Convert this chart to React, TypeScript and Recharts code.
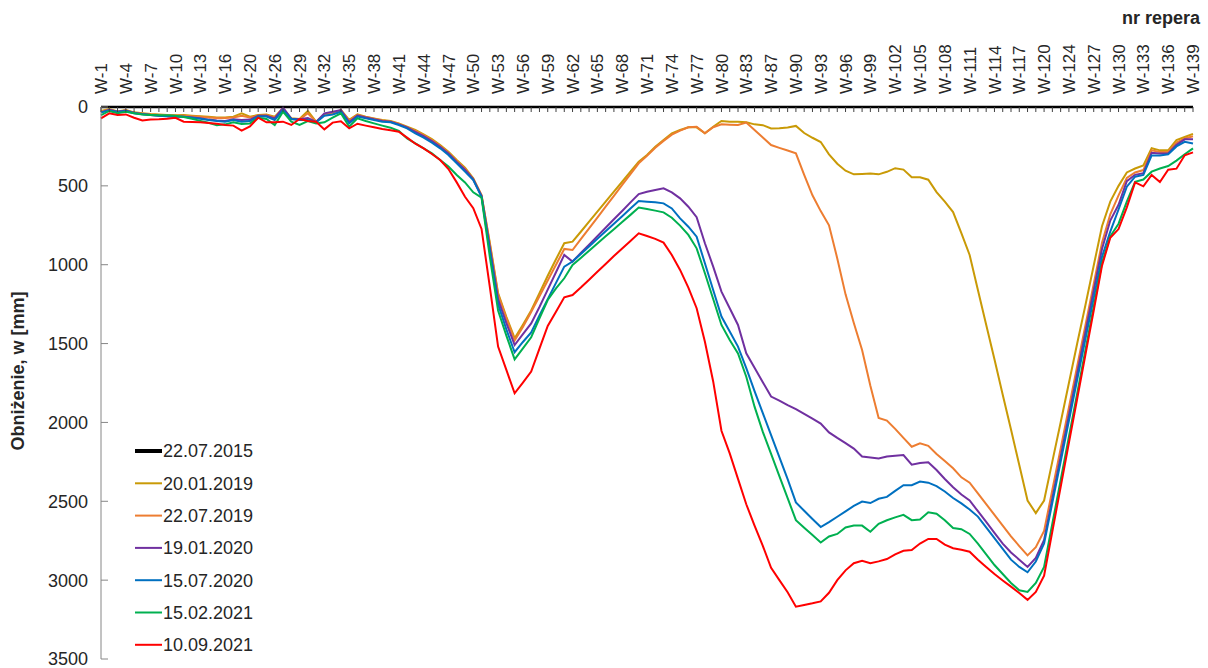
import { LineChart, Line, XAxis, YAxis } from 'recharts'

// numery reperów (co trzeci opisany na osi)
const REPER_NR = [
  1, 2, 3, 4, 5, 6, 7, 8, 9, 10, 11, 12, 13, 14, 15, 16, 17, 19, 20, 21,
  25, 26, 27, 28, 29, 30, 31, 32, 33, 34, 35, 36, 37, 38, 39, 40, 41, 42, 43, 44,
  45, 46, 47, 48, 49, 50, 51, 52, 53, 54, 55, 56, 57, 58, 59, 60, 61, 62, 63, 64,
  65, 66, 67, 68, 69, 70, 71, 72, 73, 74, 75, 76, 77, 78, 79, 80, 81, 82, 83, 84,
  86, 87, 88, 89, 90, 91, 92, 93, 94, 95, 96, 97, 98, 99, 100, 101, 102, 103, 104, 105,
  106, 107, 108, 109, 110, 111, 112, 113, 114, 115, 116, 117, 118, 119, 120, 121, 123, 124, 125, 126,
  127, 128, 129, 130, 131, 132, 133, 134, 135, 136, 137, 138, 139
]

const W_2015 = [
  0, 0, 0, 0, 0, 0, 0, 0, 0, 0, 0, 0, 0, 0, 0, 0, 0, 0, 0, 0,
  0, 0, 0, 0, 0, 0, 0, 0, 0, 0, 0, 0, 0, 0, 0, 0, 0, 0, 0, 0,
  0, 0, 0, 0, 0, 0, 0, 0, 0, 0, 0, 0, 0, 0, 0, 0, 0, 0, 0, 0,
  0, 0, 0, 0, 0, 0, 0, 0, 0, 0, 0, 0, 0, 0, 0, 0, 0, 0, 0, 0,
  0, 0, 0, 0, 0, 0, 0, 0, 0, 0, 0, 0, 0, 0, 0, 0, 0, 0, 0, 0,
  0, 0, 0, 0, 0, 0, 0, 0, 0, 0, 0, 0, 0, 0, 0, 0, 0, 0, 0, 0,
  0, 0, 0, 0, 0, 0, 0, 0, 0, 0, 0, 0, 0
]

const W_2019_01 = [
  25, 13, 28, 19, 34, 40, 45, 48, 50, 52, 51, 55, 58, 62, 66, 66, 61, 40, 61, 51,
  47, 61, 8, 72, 76, 25, 93, 47, 40, 19, 82, 47, 61, 72, 82, 89, 104, 125, 146, 173,
  203, 241, 283, 336, 385, 452, 560, 860, 1180, 1330, 1466, 1380, 1290, 1180, 1070, 965, 864, 854, 791, 727,
  664, 600, 537, 474, 410, 347, 304, 252, 209, 167, 146, 129, 129, 167, 125, 89, 93, 93, 97, 110,
  115, 136, 135, 130, 120, 165, 195, 222, 300, 360, 404, 427, 425, 422, 427, 411, 388, 397, 445, 445,
  461, 540, 600, 666, 800, 938, 1160, 1380, 1600, 1825, 2045, 2270, 2495, 2575, 2495, 2247, 2000, 1750, 1500, 1255,
  1005, 756, 600, 500, 415, 390, 370, 261, 275, 275, 210, 190, 170
]

const W_2019_07 = [
  30, 18, 30, 22, 36, 42, 47, 50, 52, 54, 55, 58, 62, 66, 70, 70, 66, 55, 66, 56,
  52, 66, 15, 76, 80, 40, 95, 50, 42, 22, 86, 50, 64, 75, 85, 92, 108, 130, 152, 178,
  210, 248, 290, 343, 393, 458, 560, 870, 1190, 1340, 1480, 1395, 1300, 1200, 1100, 1000, 900, 907, 838, 769,
  701, 632, 563, 494, 426, 357, 310, 258, 215, 175, 150, 129, 125, 167, 128, 110, 112, 114, 99, 146,
  194, 241, 259, 276, 294, 430, 560, 660, 750, 960, 1188, 1370, 1541, 1768, 1972, 1988, 2041, 2098, 2154, 2132,
  2148, 2200, 2245, 2291, 2348, 2382, 2450, 2518, 2586, 2654, 2722, 2784, 2843, 2791, 2688, 2427, 2166, 1905, 1644, 1383,
  1122, 860, 680, 560, 450, 415, 400, 275, 285, 285, 225, 200, 185
]

const W_2020_01 = [
  34, 18, 30, 22, 38, 45, 50, 55, 58, 62, 62, 66, 72, 80, 86, 88, 78, 82, 80, 56,
  55, 72, 4, 74, 78, 70, 95, 40, 30, 19, 95, 55, 66, 78, 88, 94, 110, 130, 158, 185,
  216, 252, 295, 348, 398, 458, 565, 890, 1220, 1370, 1509, 1440, 1372, 1268, 1158, 1048, 938, 980, 926, 873,
  819, 766, 712, 659, 605, 552, 537, 526, 516, 541, 579, 632, 699, 864, 1012, 1171, 1276, 1382, 1562, 1654,
  1745, 1836, 1862, 1890, 1916, 1946, 1976, 2007, 2063, 2098, 2131, 2166, 2216, 2223, 2229, 2216, 2211, 2207, 2268, 2257,
  2252, 2302, 2359, 2411, 2457, 2495, 2563, 2631, 2700, 2768, 2825, 2870, 2916, 2859, 2745, 2481, 2218, 1954, 1690, 1427,
  1163, 900, 720, 620, 470, 430, 420, 290, 295, 295, 240, 205, 205
]

const W_2020_07 = [
  34, 22, 32, 25, 40, 46, 50, 55, 58, 60, 62, 68, 75, 82, 89, 93, 82, 93, 89, 61,
  61, 82, 19, 76, 82, 82, 97, 55, 47, 30, 104, 61, 72, 82, 93, 97, 114, 135, 167, 194,
  226, 262, 304, 357, 410, 463, 570, 910, 1250, 1410, 1555, 1490, 1430, 1321, 1218, 1115, 1012, 980, 932, 884,
  836, 788, 740, 692, 644, 596, 600, 604, 611, 643, 706, 759, 822, 991, 1160, 1329, 1424, 1519, 1656, 1801,
  1941, 2081, 2220, 2360, 2507, 2560, 2612, 2663, 2632, 2598, 2564, 2529, 2502, 2511, 2484, 2472, 2434, 2398, 2398, 2375,
  2382, 2404, 2438, 2479, 2513, 2552, 2597, 2666, 2734, 2802, 2870, 2916, 2950, 2882, 2768, 2508, 2249, 1989, 1729, 1470,
  1210, 950, 790, 650, 505, 442, 431, 307, 307, 300, 250, 221, 232
]

const W_2021_02 = [
  51, 25, 40, 30, 40, 47, 50, 52, 53, 55, 63, 75, 88, 100, 115, 110, 97, 108, 104, 68,
  76, 114, 30, 93, 114, 89, 104, 97, 68, 40, 125, 72, 89, 104, 118, 131, 152, 199, 230, 262,
  294, 336, 378, 431, 478, 541, 575, 950, 1290, 1450, 1600, 1530, 1460, 1340, 1224, 1150, 1086, 1002, 957, 911,
  866, 820, 775, 729, 684, 638, 647, 657, 668, 702, 752, 811, 896, 1054, 1217, 1382, 1477, 1562, 1710, 1900,
  2060, 2200, 2340, 2480, 2620, 2668, 2714, 2761, 2723, 2707, 2666, 2654, 2654, 2693, 2643, 2620, 2602, 2586, 2620, 2616,
  2570, 2579, 2620, 2670, 2677, 2707, 2768, 2836, 2904, 2961, 3018, 3064, 3075, 3018, 2916, 2641, 2366, 2091, 1816, 1541,
  1266, 990, 820, 740, 600, 474, 460, 410, 390, 374, 340, 300, 262
]

const W_2021_09 = [
  72, 40, 51, 47, 68, 85, 80, 78, 74, 68, 93, 95, 97, 101, 106, 114, 118, 150, 123, 68,
  97, 97, 93, 114, 76, 89, 93, 142, 99, 91, 135, 106, 118, 129, 140, 148, 157, 194, 233, 262,
  298, 336, 393, 478, 569, 642, 773, 1140, 1519, 1667, 1815, 1748, 1678, 1532, 1388, 1298, 1207, 1192, 1145, 1095,
  1045, 995, 945, 897, 849, 801, 818, 836, 860, 938, 1033, 1145, 1276, 1488, 1740, 2053, 2196, 2358, 2519, 2654,
  2783, 2922, 3000, 3077, 3168, 3157, 3147, 3135, 3080, 3000, 2938, 2893, 2877, 2893, 2881, 2866, 2836, 2814, 2809, 2768,
  2739, 2739, 2775, 2798, 2807, 2820, 2870, 2916, 2961, 3002, 3041, 3082, 3125, 3075, 2972, 2690, 2410, 2130, 1850, 1570,
  1290, 1006, 829, 774, 636, 478, 503, 431, 476, 398, 391, 306, 288
]

const Y_TICKS = [0, 500, 1000, 1500, 2000, 2500, 3000, 3500]

const SERIES = [
  { key: 's1', name: '22.07.2015', color: '#000000', width: 2.5, values: W_2015 },
  { key: 's2', name: '20.01.2019', color: '#C99A06', width: 2, values: W_2019_01 },
  { key: 's3', name: '22.07.2019', color: '#ED7D31', width: 2, values: W_2019_07 },
  { key: 's4', name: '19.01.2020', color: '#7030A0', width: 2, values: W_2020_01 },
  { key: 's5', name: '15.07.2020', color: '#0070C0', width: 2, values: W_2020_07 },
  { key: 's6', name: '15.02.2021', color: '#00B050', width: 2, values: W_2021_02 },
  { key: 's7', name: '10.09.2021', color: '#FF0000', width: 2, values: W_2021_09 },
]

const LABELS = REPER_NR.map(nr => `W-${nr}`)

const data = LABELS.map((reper, i) => {
  const row: Record<string, string | number> = { reper }
  SERIES.forEach(s => { row[s.key] = s.values[i] })
  return row
})

const FONT = '"Liberation Sans", Arial, sans-serif'
const TEXT = '#262626'

function XTick({ x, y, payload }: any) {
  const i = LABELS.indexOf(payload.value)
  return (
    <g>
      <line x1={x} x2={x} y1={y} y2={y + 5} stroke="#404040" />
      {i % 3 === 0 && (
        <text
          x={x}
          y={y - 13}
          dy="0.36em"
          transform={`rotate(-90, ${x}, ${y - 13})`}
          textAnchor="start"
          fontSize={17}
          fill={TEXT}
        >
          {payload.value}
        </text>
      )}
    </g>
  )
}

function YTick({ x, y, payload }: any) {
  return (
    <g>
      <line x1={x} x2={x + 7} y1={y} y2={y} stroke="#868686" />
      <text x={x - 13} y={y} dy="0.36em" textAnchor="end" fontSize={18} fill={TEXT}>
        {payload.value}
      </text>
    </g>
  )
}

export default function App() {
  return (
    <div style={{ position: 'absolute', left: 0, top: 0, width: 1208, height: 668, background: '#fff', fontFamily: FONT }}>
      <LineChart
        width={1208}
        height={668}
        data={data}
        margin={{ top: 47, right: 15, bottom: 9, left: 21 }}
      >
        <XAxis
          dataKey="reper"
          orientation="top"
          scale="point"
          padding={{ left: 0, right: 0 }}
          interval={0}
          height={60}
          tickSize={0}
          tickMargin={0}
          tickLine={false}
          axisLine={{ stroke: '#000', strokeWidth: 1 }}
          tick={(props: any) => <XTick {...props} />}
        />
        <YAxis
          type="number"
          reversed
          domain={[0, 3500]}
          ticks={Y_TICKS}
          interval={0}
          width={80}
          tickSize={0}
          tickMargin={0}
          tickLine={false}
          axisLine={{ stroke: '#868686', strokeWidth: 1 }}
          tick={(props: any) => <YTick {...props} />}
        />
        {SERIES.map(s => (
          <Line
            key={s.key}
            dataKey={s.key}
            name={s.name}
            type="linear"
            stroke={s.color}
            strokeWidth={s.width}
            dot={false}
            activeDot={false}
            isAnimationActive={false}
          />
        ))}
      </LineChart>
      <svg
        width={1208}
        height={668}
        style={{ position: 'absolute', left: 0, top: 0, pointerEvents: 'none' }}
        fontFamily={FONT}
      >
        <text x={1200} y={24} textAnchor="end" fontSize={18} fontWeight="bold" fill={TEXT}>nr repera</text>
        <text
          x={18}
          y={371}
          dy="0.36em"
          transform="rotate(-90, 18, 371)"
          textAnchor="middle"
          fontSize={18}
          fontWeight="bold"
          fill={TEXT}
        >
          Obniżenie, w [mm]
        </text>
        {SERIES.map((s, k) => {
          const ly = 451 + k * 32.3
          return (
            <g key={s.key}>
              <line x1={135} x2={162} y1={ly} y2={ly} stroke={s.color} strokeWidth={s.width === 2 ? 2 : 4} />
              <text x={163} y={ly} dy="0.36em" fontSize={18} fill={TEXT}>{s.name}</text>
            </g>
          )
        })}
      </svg>
    </div>
  )
}
